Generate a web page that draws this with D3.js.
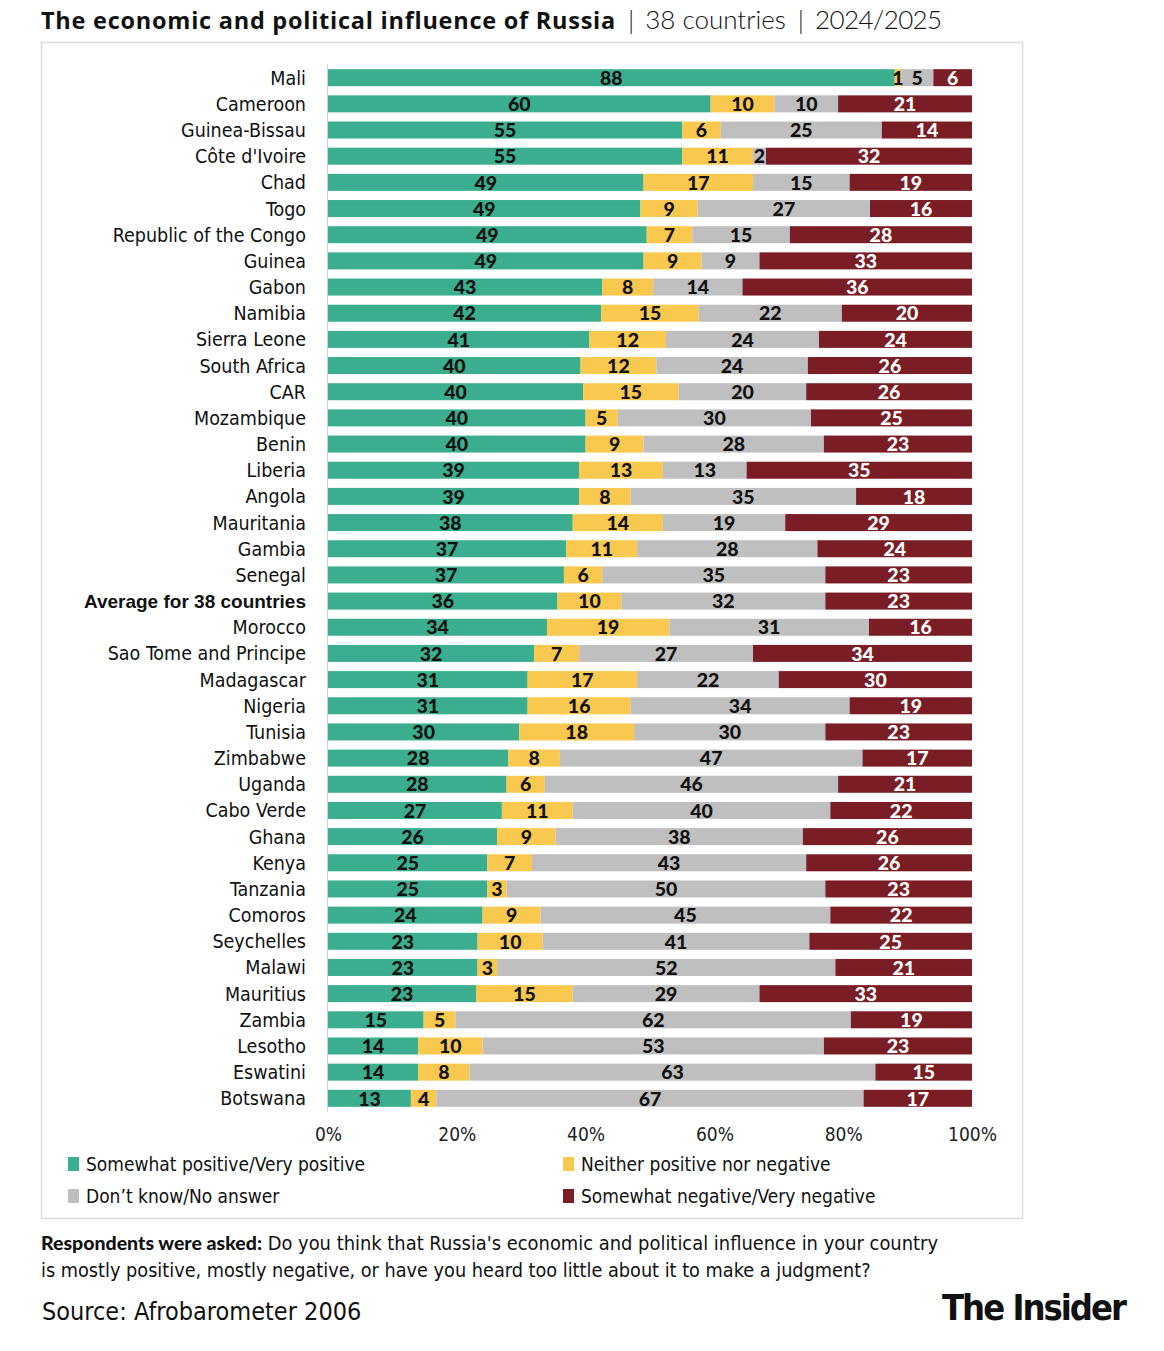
<!DOCTYPE html>
<html><head><meta charset="utf-8">
<script src="https://cdn.jsdelivr.net/npm/d3@7"></script>
<style>
body{margin:0;background:#fff}
.narrow{font-family:"Liberation Sans Narrow","DejaVu Sans Condensed","Roboto",sans-serif;font-stretch:condensed}
</style>
</head><body><svg id="c" width="1164" height="1351"></svg>
<script>
const countries = ["Mali","Cameroon","Guinea-Bissau","Côte d'Ivoire","Chad","Togo","Republic of the Congo","Guinea","Gabon","Namibia","Sierra Leone","South Africa","CAR","Mozambique","Benin","Liberia","Angola","Mauritania","Gambia","Senegal","Average for 38 countries","Morocco","Sao Tome and Principe","Madagascar","Nigeria","Tunisia","Zimbabwe","Uganda","Cabo Verde","Ghana","Kenya","Tanzania","Comoros","Seychelles","Malawi","Mauritius","Zambia","Lesotho","Eswatini","Botswana"];
const positive = [88,60,55,55,49,49,49,49,43,42,41,40,40,40,40,39,39,38,37,37,36,34,32,31,31,30,28,28,27,26,25,25,24,23,23,23,15,14,14,13];
const neutral  = [1,10,6,11,17,9,7,9,8,15,12,12,15,5,9,13,8,14,11,6,10,19,7,17,16,18,8,6,11,9,7,3,9,10,3,15,5,10,8,4];
const dontKnow = [5,10,25,2,15,27,15,9,14,22,24,24,20,30,28,13,35,19,28,35,32,31,27,22,34,30,47,46,40,38,43,50,45,41,52,29,62,53,63,67];
const negative = [6,21,14,32,19,16,28,33,36,20,24,26,26,25,23,35,18,29,24,23,23,16,34,30,19,23,17,21,22,26,26,23,22,25,21,33,19,23,15,17];
const seriesKeys = ["pos","neu","dk","neg"];
const seriesNames = ["Somewhat positive/Very positive","Neither positive nor negative","Don’t know/No answer","Somewhat negative/Very negative"];
const seriesColors = ["#3aae8e","#f8c84f","#bfbfbf","#7b1d24"];
const labelColors = ["#111","#111","#111","#fff"];
const xTickValues = [0,0.2,0.4,0.6,0.8,1];
const averageLabel = "Average for 38 countries";

const rows = countries.map((c,i)=>({country:c,pos:positive[i],neu:neutral[i],dk:dontKnow[i],neg:negative[i]}));
const stacked = d3.stack().keys(seriesKeys).offset(d3.stackOffsetExpand)(rows);

const svg = d3.select("#c");
svg.append("rect").attr("width",1164).attr("height",1351).attr("fill","#fff");

// title
const title = svg.append("text").attr("x",41).attr("y",29).attr("fill","#111");
title.append("tspan").style("font-family","'Open Sans', sans-serif").style("font-weight","700").style("font-size","23.5px").style("letter-spacing","0.75px").text("The economic and political influence of Russia");
const lightStyle = t => t.style("font-family","Lato, sans-serif").style("font-weight","300").style("font-size","26px");
lightStyle(title.append("tspan").attr("dx",12)).text("|");
lightStyle(title.append("tspan").attr("dx",11)).text("38 countries");
lightStyle(title.append("tspan").attr("dx",12)).text("|");
lightStyle(title.append("tspan").attr("dx",11)).style("letter-spacing","-0.6px").text("2024/2025");

// frame
svg.append("rect").attr("x",41.5).attr("y",42.5).attr("width",981).attr("height",1176).attr("fill","none").attr("stroke","#dcdcdc").attr("stroke-width",1.5);

const x = d3.scaleLinear().domain([0,1]).range([328,972]);
const y = d3.scaleBand().domain(countries).range([64.6,1111.4]).paddingInner(0.35).paddingOuter(0.175);

// axis line
svg.append("line").attr("x1",x(0)-0.5).attr("x2",x(0)-0.5).attr("y1",y.range()[0]).attr("y2",y.range()[1]).attr("stroke","#d0d0d0").attr("stroke-width",1);

const g = svg.append("g");
stacked.forEach((s,si)=>{
  g.selectAll(null).data(s).join("rect")
    .attr("x",d=>x(d[0])).attr("width",d=>x(d[1])-x(d[0]))
    .attr("y",d=>y(d.data.country)).attr("height",y.bandwidth())
    .attr("fill",seriesColors[si]);
});
stacked.forEach((s,si)=>{
  g.selectAll(null).data(s).join("text")
    .attr("x",d=>(x(d[0])+x(d[1]))/2)
    .attr("y",d=>y(d.data.country)+y.bandwidth()/2)
    .attr("dy","0.37em").attr("text-anchor","middle")
    .style("font-family","Lato, sans-serif").style("font-weight","900").style("font-size","19.5px")
    .attr("fill",labelColors[si])
    .text(d=>d.data[seriesKeys[si]]);
});

// y labels
svg.append("g").selectAll("text").data(countries).join("text")
  .attr("x",306).attr("y",d=>y(d)+y.bandwidth()/2).attr("dy","0.36em").attr("text-anchor","end")
  .attr("class",d=>d===averageLabel?null:"narrow")
  .style("font-family",d=>d===averageLabel?"'Liberation Sans', Arial, sans-serif":null)
  .style("font-weight",d=>d===averageLabel?"700":"400")
  .style("font-size",d=>d===averageLabel?"19px":"19.5px")
  .attr("fill","#111").text(d=>d);

// x axis
const xAxis = d3.axisBottom(x).tickValues(xTickValues).tickFormat(d3.format(".0%")).tickSize(0).tickPadding(0);
const ax = svg.append("g").attr("transform","translate(0,1127)").call(xAxis);
ax.select(".domain").remove();
ax.selectAll("text").attr("class","narrow").style("font-size","19px").attr("fill","#222").attr("dy","0.71em");

// legend
const legendPos = [[68,1164],[563,1164],[68,1196],[563,1196]];
const leg = svg.append("g").selectAll("g").data(seriesNames).join("g")
  .attr("transform",(d,i)=>`translate(${legendPos[i][0]},${legendPos[i][1]})`);
leg.append("rect").attr("x",0).attr("y",-7).attr("width",11).attr("height",14).attr("fill",(d,i)=>seriesColors[i]);
leg.append("text").attr("class","narrow").attr("x",18).attr("dy","0.36em").style("font-size","19px").attr("fill","#111").text(d=>d);

// question
const q1 = svg.append("text").attr("x",41).attr("y",1250).attr("fill","#111");
q1.append("tspan").style("font-family","Lato, sans-serif").style("font-weight","900").style("font-size","19.5px").text("Respondents were asked:");
q1.append("tspan").attr("class","narrow").style("font-size","19.9px").text(" Do you think that Russia's economic and political influence in your country");
svg.append("text").attr("x",41).attr("y",1277).attr("class","narrow").style("font-size","19.7px").attr("fill","#111")
  .text("is mostly positive, mostly negative, or have you heard too little about it to make a judgment?");

svg.append("text").attr("x",42).attr("y",1320).attr("class","narrow").style("font-size","25px").attr("fill","#111").text("Source: Afrobarometer 2006");
svg.append("text").attr("x",1125).attr("y",1320).attr("text-anchor","end").style("font-family","'Liberation Sans Narrow','DejaVu Sans Condensed',sans-serif").style("font-weight","700").style("font-size","36px").style("letter-spacing","-2px").attr("fill","#111").text("The Insider");
</script></body></html>
